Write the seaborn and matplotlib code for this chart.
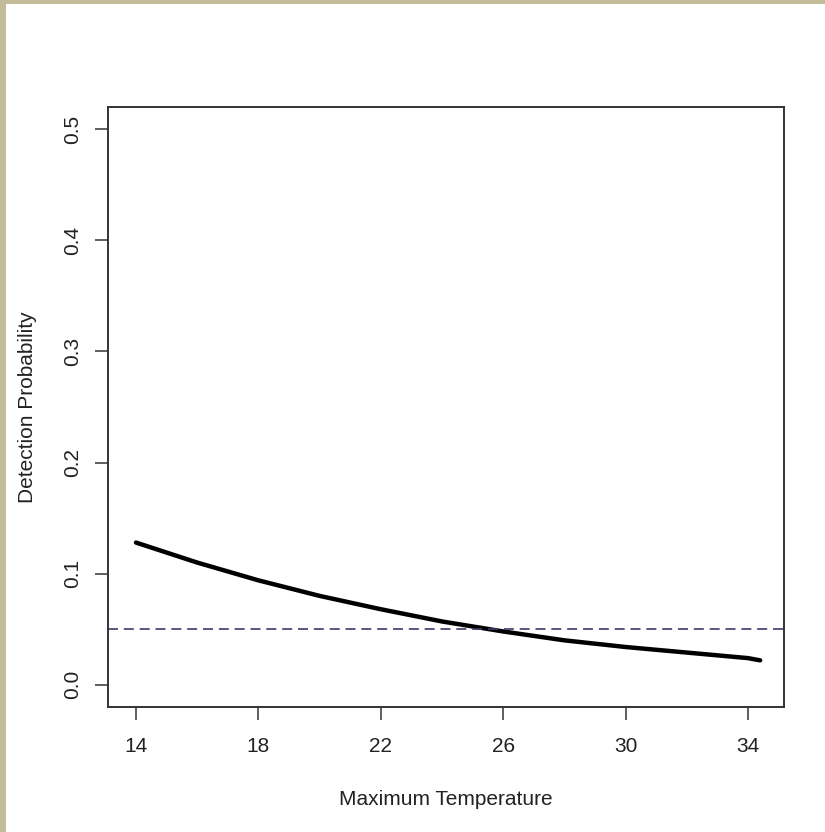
import numpy as np
import pandas as pd
import matplotlib
matplotlib.use("Agg")
import matplotlib.pyplot as plt
import seaborn as sns
from matplotlib.patches import Rectangle

# values
temp = [14, 16, 18, 20, 22, 24, 26, 28, 30, 32, 34, 34.4]
prob = [0.128, 0.110, 0.094, 0.080, 0.068, 0.057, 0.048, 0.040, 0.034, 0.029, 0.024, 0.022]
threshold = 0.05
x_ticks = [14, 18, 22, 26, 30, 34]
y_ticks = [0.0, 0.1, 0.2, 0.3, 0.4, 0.5]

df = pd.DataFrame({"temp": temp, "prob": prob})

sns.set_style("white")
plt.rcParams["font.family"] = ["Liberation Sans", "DejaVu Sans"]

fig = plt.figure(figsize=(8.25, 8.32), dpi=100)
fig.patch.set_facecolor("#c2bd98")
# white page inside the beige frame
fig.patches.append(Rectangle((6 / 825, 0), 1, 1 - 4 / 832, transform=fig.transFigure,
                             facecolor="white", edgecolor="none", zorder=-10))

ax = fig.add_axes([108 / 825, 1 - 707 / 832, (784 - 108) / 825, (707 - 107) / 832])
ax.set_facecolor("white")

sns.lineplot(data=df, x="temp", y="prob", color="black", linewidth=3.2, ax=ax)
ax.axhline(threshold, color="#3b3b6b", linestyle=(0, (6, 3.5)), linewidth=1.2)

ax.set_xlim(13.085, 35.18)
ax.set_ylim(-0.02, 0.52)
ax.set_xticks(x_ticks)
ax.set_yticks(y_ticks)
ax.set_yticklabels([f"{v:.1f}" for v in y_ticks], rotation=90, va="center")

ax.tick_params(axis="both", direction="out", length=9.4, width=1.1, color="#333333",
               labelsize=15, labelcolor="#222222", left=True, bottom=True)
ax.tick_params(axis="x", pad=12)
ax.tick_params(axis="y", pad=9)

for s in ax.spines.values():
    s.set_color("#333333")
    s.set_linewidth(1.4)

ax.set_xlabel("Maximum Temperature", fontsize=15, color="#222222", labelpad=25)
ax.set_ylabel("Detection Probability", fontsize=15, color="#222222", labelpad=19)

fig.savefig("out.png", dpi=100)
